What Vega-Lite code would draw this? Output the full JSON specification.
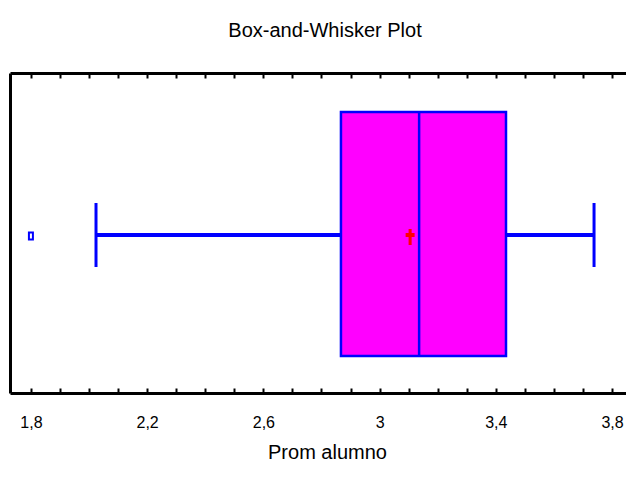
{
  "$schema": "https://vega.github.io/schema/vega-lite/v6.json",
  "autosize": "none",
  "width": 616,
  "height": 320,
  "padding": {"left": 10, "top": 73, "right": 0, "bottom": 87},
  "background": "white",
  "title": {"text": "Box-and-Whisker Plot", "font": "Liberation Sans", "fontSize": 20, "fontWeight": "normal", "color": "black", "offset": 31, "dx": 7},
  "config": {
    "view": {"stroke": null},
    "axis": {"labelFont": "Liberation Sans", "titleFont": "Liberation Sans", "labelColor": "black", "titleColor": "black", "grid": false}
  },
  "datasets": {
    "summary": [{"variable": "Prom alumno", "min": 2.024, "q1": 2.867, "median": 3.136, "q3": 3.435, "max": 3.738, "mean": 3.105}],
    "outliers": [{"variable": "Prom alumno", "value": 1.8}]
  },
  "encoding": {
    "y": {"field": "variable", "type": "nominal", "axis": {"title": null, "labels": false, "ticks": false, "domainWidth": 3, "domainColor": "black"}}
  },
  "resolve": {"axis": {"x": "independent"}},
  "layer": [
    {
      "data": {"name": "summary"},
      "mark": {"type": "rule", "color": "#0000FF", "strokeWidth": 4, "yOffset": 2},
      "encoding": {
        "x": {"field": "min", "type": "quantitative", "scale": {"domain": [1.728, 3.848], "nice": false, "zero": false},
          "axis": {"orient": "bottom", "title": "Prom alumno", "titleFontSize": 20, "titleFontWeight": "normal", "titlePadding": 12, "titleX": 317,
            "values": [1.8, 1.9, 2.0, 2.1, 2.2, 2.3, 2.4, 2.5, 2.6, 2.7, 2.8, 2.9, 3.0, 3.1, 3.2, 3.3, 3.4, 3.5, 3.6, 3.7, 3.8],
            "labelExpr": "indexof([1.8, 2.2, 2.6, 3, 3.4, 3.8], datum.value) >= 0 ? replace(format(datum.value, '~g'), '.', ',') : ''",
            "labelFontSize": 16, "labelPadding": 26, "labelFlush": false, "labelOverlap": false,
            "tickSize": -5, "tickWidth": 2, "tickColor": "black", "domainWidth": 3, "domainColor": "black"}},
        "x2": {"field": "q1"}
      }
    },
    {
      "data": {"name": "summary"},
      "mark": {"type": "rule", "color": "#0000FF", "strokeWidth": 4, "yOffset": 2},
      "encoding": {
        "x": {"field": "q3", "type": "quantitative",
          "axis": {"orient": "top", "title": null, "labels": false,
            "values": [1.8, 1.9, 2.0, 2.1, 2.2, 2.3, 2.4, 2.5, 2.6, 2.7, 2.8, 2.9, 3.0, 3.1, 3.2, 3.3, 3.4, 3.5, 3.6, 3.7, 3.8],
            "tickSize": -5, "tickWidth": 2, "tickColor": "black", "domainWidth": 3, "domainColor": "black"}},
        "x2": {"field": "max"}
      }
    },
    {
      "data": {"name": "summary"},
      "mark": {"type": "bar", "size": 244, "fill": "#FF00FF", "stroke": "#0000FF", "strokeWidth": 2.5, "yOffset": 1},
      "encoding": {
        "x": {"field": "q1", "type": "quantitative", "axis": null},
        "x2": {"field": "q3"}
      }
    },
    {
      "data": {"name": "summary"},
      "mark": {"type": "tick", "size": 244, "thickness": 2.5, "color": "#0000FF", "opacity": 1, "yOffset": 1},
      "encoding": {
        "x": {"field": "median", "type": "quantitative", "axis": null}
      }
    },
    {
      "data": {"name": "summary"},
      "mark": {"type": "tick", "size": 64, "thickness": 3, "color": "#0000FF", "opacity": 1, "yOffset": 2},
      "encoding": {
        "x": {"field": "min", "type": "quantitative", "axis": null}
      }
    },
    {
      "data": {"name": "summary"},
      "mark": {"type": "tick", "size": 64, "thickness": 3, "color": "#0000FF", "opacity": 1, "yOffset": 2},
      "encoding": {
        "x": {"field": "max", "type": "quantitative", "axis": null}
      }
    },
    {
      "data": {"name": "outliers"},
      "mark": {"type": "point", "shape": "M-0.57,-1H0.57V1H-0.57Z", "size": 49, "filled": false, "stroke": "#0000FF", "strokeWidth": 2, "opacity": 1, "yOffset": 3},
      "encoding": {
        "x": {"field": "value", "type": "quantitative", "axis": null}
      }
    },
    {
      "data": {"name": "summary"},
      "mark": {"type": "point", "shape": "M-0.19,-1H0.19V1H-0.19Z M-0.56,-0.5H0.56V0H-0.56Z", "size": 256, "filled": true, "fill": "#FF0000", "strokeWidth": 0, "opacity": 1, "yOffset": 4},
      "encoding": {
        "x": {"field": "mean", "type": "quantitative", "axis": null}
      }
    }
  ]
}
